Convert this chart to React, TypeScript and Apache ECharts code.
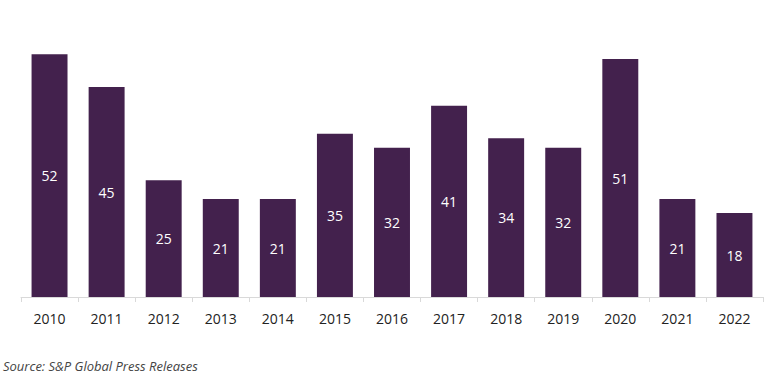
import React, { useEffect, useRef } from "react";
import * as echarts from "echarts";

const years = ["2010", "2011", "2012", "2013", "2014", "2015", "2016", "2017", "2018", "2019", "2020", "2021", "2022"];
const counts = [52, 45, 25, 21, 21, 35, 32, 41, 34, 32, 51, 21, 18];
const sourceText = "Source: S&P Global Press Releases";

export default function App() {
  const ref = useRef<HTMLDivElement>(null);
  useEffect(() => {
    if (!ref.current) return;
    const chart = echarts.init(ref.current, undefined, { renderer: "svg" });
    chart.setOption({
      animation: false,
      grid: { left: 21, right: 13, top: 17, height: 280, containLabel: false },
      xAxis: {
        type: "category",
        data: years,
        boundaryGap: true,
        axisLine: { lineStyle: { color: "#d9d9d9", width: 1 } },
        axisTick: { show: true, length: 5, lineStyle: { color: "#d9d9d9" } },
        axisLabel: { color: "#222", fontSize: 14, margin: 14, fontFamily: "Open Sans, sans-serif" },
      },
      yAxis: {
        type: "value",
        min: 0,
        max: 60,
        show: false,
        splitLine: { show: false },
      },
      series: [
        {
          type: "bar",
          data: counts,
          barWidth: "63%",
          itemStyle: { color: "#43214d" },
          label: {
            show: true,
            position: "inside",
            color: "#fff",
            fontSize: 14,
            fontFamily: "Open Sans, sans-serif",
          },
        },
      ],
      graphic: [
        {
          type: "text",
          left: 3,
          top: 359,
          style: {
            text: sourceText,
            fill: "#444",
            font: "italic 13px 'Open Sans', sans-serif",
          },
        },
      ],
    });
    return () => chart.dispose();
  }, []);
  return <div ref={ref} style={{ width: 776, height: 378, position: "absolute", left: 0, top: 0 }} />;
}
